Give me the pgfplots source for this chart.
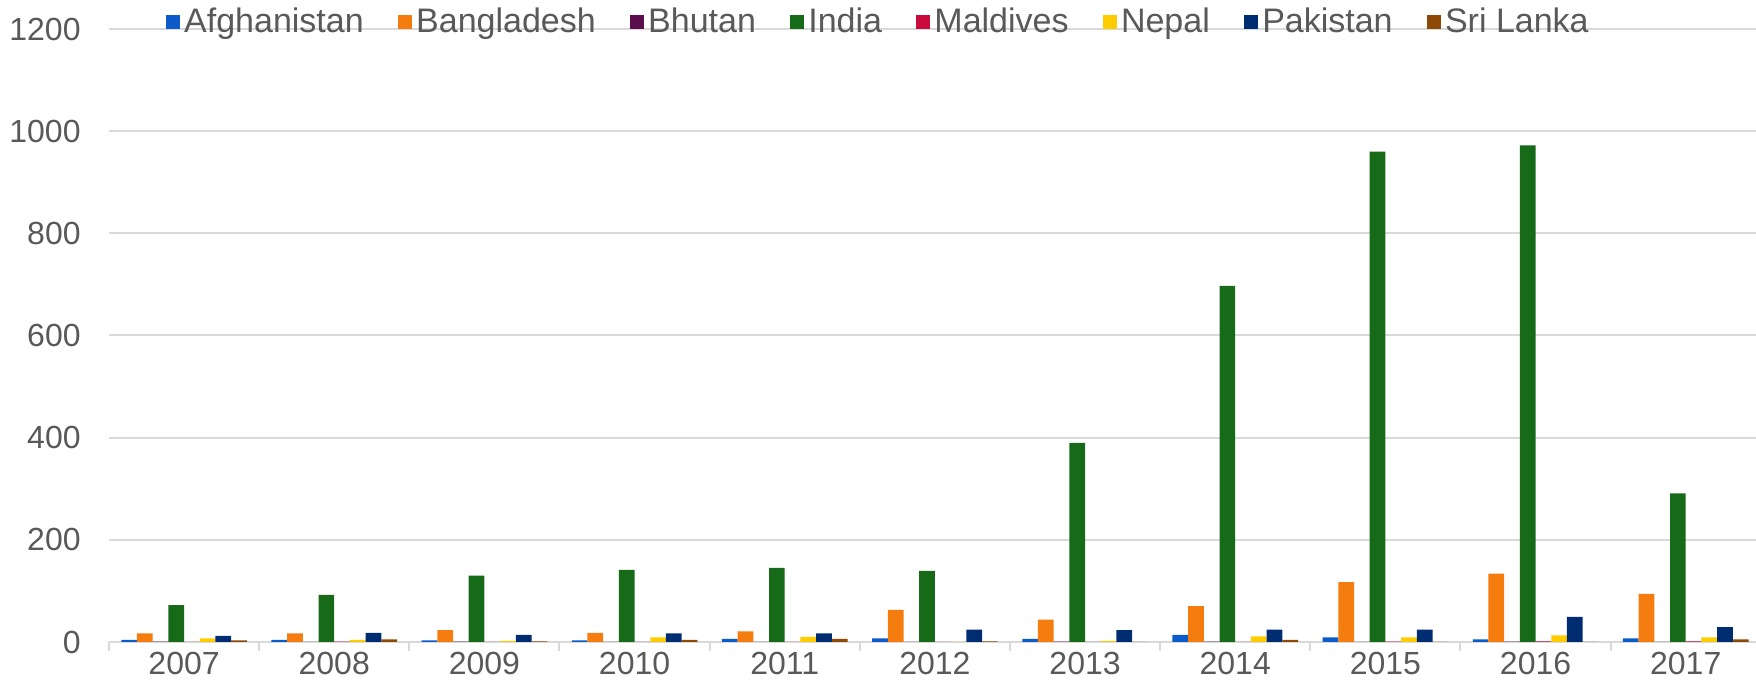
\documentclass[border=0pt]{standalone}
\usepackage{pgfplots}
\pgfplotsset{compat=1.18}
\usepackage{pgfplotstable}
\usepackage{fontspec}
\setmainfont{Liberation Sans}
\definecolor{cAfg}{HTML}{0B5CC9}
\definecolor{cBan}{HTML}{F57D0F}
\definecolor{cBhu}{HTML}{5A0F4C}
\definecolor{cInd}{HTML}{176A17}
\definecolor{cMal}{HTML}{C80A3C}
\definecolor{cNep}{HTML}{FFCC00}
\definecolor{cPak}{HTML}{002D72}
\definecolor{cSri}{HTML}{8C4A06}
\definecolor{gridc}{HTML}{D9D9D9}
\definecolor{txt}{HTML}{595959}
\pgfplotstableread{
x Afg Ban Bhu Ind Mal Nep Pak Sri
0 4 17 0.5 72 0 7 12 3
1 4 17 0 92 0.5 4 18 5
2 3 23 0.5 130 0 2 14 1
3 3 18 0 141 0 9 17 4
4 6 21 0 145 0 10 17 6
5 7 63 0 139 0 0 24 1
6 6 44 0.5 390 0 2 23 0
7 14 70 0.5 697 0 11 24 4
8 9 117 0 960 0.5 9 24 0
9 5 134 0.5 972 1 13 49 0
10 7 94 0 291 1 9 29 5
}\datatable
\begin{document}
\begin{tikzpicture}
\useasboundingbox (0,0) rectangle (878pt,347pt);
\begin{axis}[
  at={(54.5pt,26pt)}, anchor=south west,
  scale only axis, width=825.9pt, height=306.5pt,
  xmin=-0.5, xmax=10.5, ymin=0, ymax=1200,
  ybar=0pt, bar width=7.85pt,
  xtick={0,...,10},
  xticklabels={2007,2008,2009,2010,2011,2012,2013,2014,2015,2016,2017},
  minor xtick={-0.5,0.5,...,10.5},
  ytick={0,200,...,1200},
  axis x line*=bottom, axis y line*=left,
  y axis line style={draw=none},
  x axis line style={gridc, line width=1pt},
  major tick length=0pt,
  minor tick length=4.5pt,
  tick align=outside,
  minor x tick style={gridc, line width=1pt},
  ymajorgrids, grid style={gridc, line width=1pt},
  tick label style={font=\fontsize{16}{19}\selectfont, text=txt},
  xticklabel style={anchor=center, yshift=-10.5pt, inner sep=0pt},
  yticklabel style={anchor=east, inner sep=0pt, xshift=-14pt},
  /pgf/number format/assume math mode=true,
  /pgf/number format/1000 sep={},
  legend columns=8,
  legend image code/.code={\fill[#1] (0pt,-3.6pt) rectangle (7.2pt,3.6pt);},
  legend style={draw=none, fill=none, at={(axis description cs:0,1)}, anchor=west,
    xshift=28.2pt, yshift=3.5pt, inner sep=0pt,
    font=\fontsize{17}{20}\selectfont, text=txt,
    /tikz/every even column/.append style={column sep=15pt},
    nodes={inner sep=2pt}},
]
\addplot[fill=cAfg, draw=none] table[x=x, y=Afg] {\datatable};
\addplot[fill=cBan, draw=none] table[x=x, y=Ban] {\datatable};
\addplot[fill=cBhu, draw=none] table[x=x, y=Bhu] {\datatable};
\addplot[fill=cInd, draw=none] table[x=x, y=Ind] {\datatable};
\addplot[fill=cMal, draw=none] table[x=x, y=Mal] {\datatable};
\addplot[fill=cNep, draw=none] table[x=x, y=Nep] {\datatable};
\addplot[fill=cPak, draw=none] table[x=x, y=Pak] {\datatable};
\addplot[fill=cSri, draw=none] table[x=x, y=Sri] {\datatable};
\legend{Afghanistan,Bangladesh,Bhutan,India,Maldives,Nepal,Pakistan,Sri Lanka}
\end{axis}
\end{tikzpicture}
\end{document}
